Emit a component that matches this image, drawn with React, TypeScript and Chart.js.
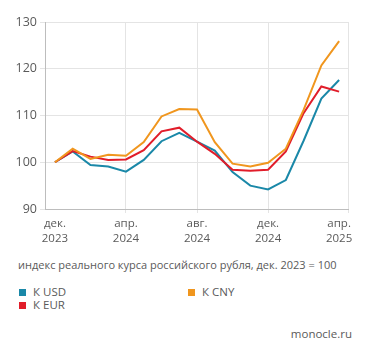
import React, { useEffect, useRef } from "react";
import { Chart, registerables } from "chart.js";

Chart.register(...registerables);

const months = [
  "дек. 2023", "янв. 2024", "фев. 2024", "мар. 2024", "апр. 2024", "май 2024",
  "июн. 2024", "июл. 2024", "авг. 2024", "сен. 2024", "окт. 2024", "ноя. 2024",
  "дек. 2024", "янв. 2025", "фев. 2025", "мар. 2025", "апр. 2025",
];
const usd = [100, 102.3, 99.4, 99.1, 98.0, 100.5, 104.5, 106.3, 104.4, 102.5, 97.9, 95.0, 94.2, 96.2, 104.6, 113.6, 117.6];
const eur = [100, 102.4, 101.2, 100.5, 100.6, 102.6, 106.6, 107.4, 104.4, 101.8, 98.4, 98.2, 98.4, 102.3, 110.5, 116.2, 115.1];
const cny = [100, 102.9, 100.7, 101.6, 101.4, 104.3, 109.8, 111.4, 111.3, 104.3, 99.7, 99.1, 99.9, 102.9, 111.2, 120.7, 125.9];

const xTickPositions = [0, 4, 8, 12, 16];
const xTickLabels = [["дек.", "2023"], ["апр.", "2024"], ["авг.", "2024"], ["дек.", "2024"], ["апр.", "2025"]];
const yTicks = [90, 100, 110, 120, 130];

const seriesNames = ["К USD", "К EUR", "К CNY"];
const caption = "индекс реального курса российского рубля, дек. 2023 = 100";
const source = "monocle.ru";

const BLUE = "#1a88a8";
const RED = "#e11d2a";
const ORANGE = "#f0961e";
const FONT = "'Open Sans', sans-serif";
const TEXT = "#5a5a5a";

export default function App() {
  const ref = useRef<HTMLCanvasElement>(null);

  useEffect(() => {
    const toPts = (arr: number[]) => arr.map((y, x) => ({ x, y }));
    const chart = new Chart(ref.current as HTMLCanvasElement, {
      type: "line",
      data: {
        labels: months,
        datasets: [
          { label: seriesNames[2], data: toPts(cny), borderColor: ORANGE, backgroundColor: ORANGE },
          { label: seriesNames[1], data: toPts(eur), borderColor: RED, backgroundColor: RED },
          { label: seriesNames[0], data: toPts(usd), borderColor: BLUE, backgroundColor: BLUE },
        ],
      },
      options: {
        animation: false,
        responsive: false,
        maintainAspectRatio: false,
        layout: { padding: { top: 22, right: 23, left: 0, bottom: 0 } },
        plugins: { legend: { display: false }, tooltip: { enabled: false } },
        elements: {
          point: { radius: 0 },
          line: { borderWidth: 2, tension: 0, borderJoinStyle: "miter" },
        },
        scales: {
          x: {
            type: "linear",
            min: -0.56,
            max: 16.5,
            afterBuildTicks: (s: any) => {
              s.ticks = [...xTickPositions, 16.5].map((v) => ({ value: v }));
            },
            afterFit: (s: any) => {
              s.height = 41;
            },
            ticks: {
              autoSkip: false,
              maxRotation: 0,
              padding: 3,
              color: TEXT,
              font: { family: FONT, size: 11.5, lineHeight: 1.3 },
              callback: (v: any) => {
                const i = xTickPositions.indexOf(Number(v));
                return i >= 0 ? xTickLabels[i] : "";
              },
            },
            grid: {
              tickLength: 4,
              color: (ctx: any) => {
                const v = ctx.tick ? ctx.tick.value : null;
                return v === 0 || v === 16 ? "rgba(0,0,0,0)" : "#e4e4e4";
              },
            },
            border: { color: "#bdbdbd", width: 1 },
          },
          y: {
            min: 90,
            max: 130,
            afterBuildTicks: (s: any) => {
              s.ticks = yTicks.map((v) => ({ value: v }));
            },
            afterFit: (s: any) => {
              s.width = 45;
            },
            ticks: {
              padding: 3,
              color: TEXT,
              font: { family: FONT, size: 12.5 },
            },
            grid: { tickLength: 5, color: "#e4e4e4" },
            border: { color: "#bdbdbd", width: 1 },
          },
        },
      },
    } as any);
    return () => chart.destroy();
  }, []);

  const legendItem = (name: string, color: string, left: number, top: number) => (
    <div
      key={name}
      style={{ position: "absolute", left, top, display: "flex", alignItems: "center", height: 14 }}
    >
      <span style={{ width: 7, height: 7, background: color, display: "inline-block", marginRight: 7 }} />
      <span style={{ fontSize: 11.5, color: TEXT, lineHeight: "14px" }}>{name}</span>
    </div>
  );

  return (
    <div
      style={{
        position: "absolute",
        left: 0,
        top: 0,
        width: 371,
        height: 356,
        background: "#ffffff",
        fontFamily: FONT,
        overflow: "hidden",
      }}
    >
      <canvas ref={ref} width={371} height={250} style={{ display: "block", width: 371, height: 250 }} />
      <div style={{ position: "absolute", left: 18, top: 257, fontSize: 11, color: TEXT, whiteSpace: "nowrap", lineHeight: "16px" }}>
        {caption}
      </div>
      {legendItem(seriesNames[0], BLUE, 19, 285)}
      {legendItem(seriesNames[1], RED, 19, 298)}
      {legendItem(seriesNames[2], ORANGE, 188, 285)}
      <div style={{ position: "absolute", right: 19, top: 326, fontSize: 11.5, color: TEXT, lineHeight: "16px" }}>{source}</div>
    </div>
  );
}
